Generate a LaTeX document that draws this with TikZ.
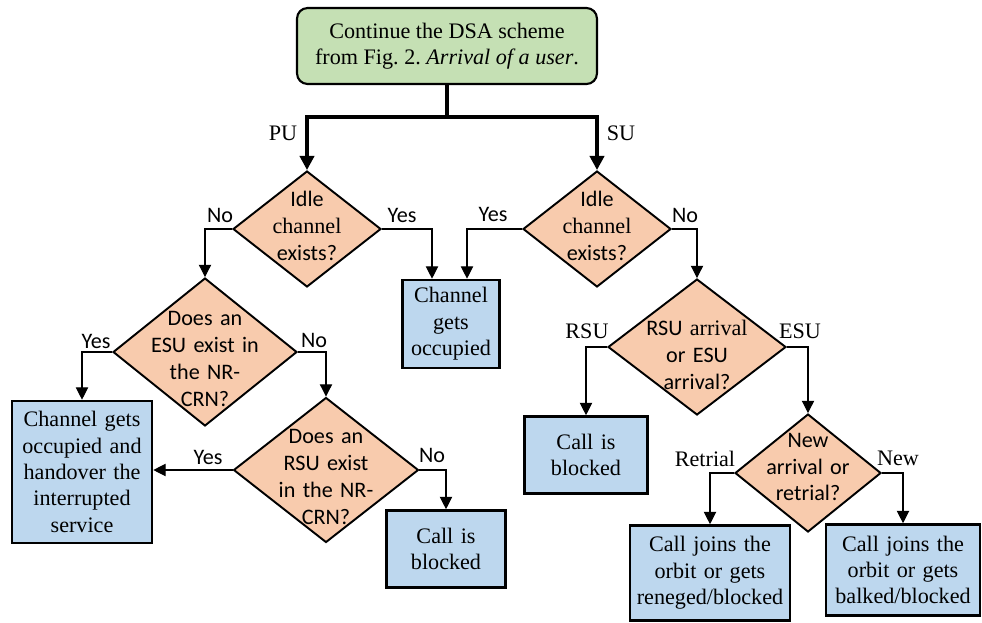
\documentclass[tikz,border=0pt]{standalone}
\usepackage{fontspec}
\setmainfont{Liberation Serif}
\newfontfamily\timesfont{Liberation Serif}
\newfontfamily\calfont{Carlito}
\usepackage{tikz}
\usetikzlibrary{positioning}
\usetikzlibrary{calc,shapes.geometric}
\usetikzlibrary{arrows.meta}
\definecolor{startcol}{HTML}{C5E0B4}
\definecolor{askcol}{HTML}{F8CBAD}
\definecolor{endcol}{HTML}{BDD7EE}
\tikzset{>={Triangle[length=7pt,width=7pt]}}
\tikzset{
  startbox/.style={draw, line width=1.2pt, rounded corners=6pt, fill=startcol,
    inner sep=0pt, align=center, font=\timesfont\fontsize{12.6}{15}\selectfont},
  ask/.style={draw, diamond, line width=1.1pt, fill=askcol, inner sep=0pt},
  asktext/.style={text width=3cm, align=center, inner sep=0pt,
    font=\calfont\fontsize{12.6}{15.3}\selectfont},
  endbox/.style={draw, line width=1.5pt, fill=endcol, inner sep=0pt,
    align=center, font=\timesfont\fontsize{12.6}{15}\selectfont},
  flow/.style={->, line width=0.6pt},
  mainflow/.style={->, line width=2pt, >={Triangle[length=8pt,width=8pt]}},
  tag/.style={inner sep=0pt, font=\timesfont\fontsize{12.6}{15}\selectfont},
  yn/.style={inner sep=0pt, font=\calfont\fontsize{12.6}{15}\selectfont},
}

\begin{document}
\begin{tikzpicture}[x=0.02cm, y=-0.02cm]
\useasboundingbox (0,0) rectangle (982,622);

% ================= Start =================
\node[startbox, minimum width=6cm, minimum height=1.52cm] (start) at (447,46)
  {Continue the DSA scheme\\from Fig.\ 2.\ \textit{Arrival of a user}.};
\coordinate (split) at (447,117);

% ================= Decisions =================
\node[ask, minimum width=2.96cm, minimum height=2.32cm] (d1) at (307,229) {};
\node[asktext] (d1t) at (307,226) {Idle\\{\timesfont channel}\\exists?};

\node[ask, minimum width=2.96cm, minimum height=2.32cm] (d2) at (597,229) {};
\node[asktext] (d2t) at (597,226) {Idle\\{\timesfont channel}\\exists?};

\node[ask, minimum width=3.68cm, minimum height=2.96cm] (d3) at (205,352) {};
\node[asktext] (d3t) at (205,359) {Does an\\ESU exist in\\the NR-\\CRN?};

\node[ask, minimum width=3.7cm, minimum height=2.9cm] (d4) at (326,470) {};
\node[asktext] (d4t) at (326,477) {Does an\\RSU exist\\in the NR-\\CRN?};

\node[ask, minimum width=3.56cm, minimum height=2.72cm] (d5) at (697,347) {};
\node[asktext] (d5t) at (697,355) {RSU {\timesfont arrival}\\or ESU\\arrival?};

\node[ask, minimum width=2.92cm, minimum height=2.36cm] (d6) at (808,473) {};
\node[asktext] (d6t) at (808,467) {New\\arrival or\\retrial?};

% ================= Outcomes =================
\node[endbox, text width=1.94cm, minimum height=1.76cm] (occ) at (451,324)
  {Channel\\gets\\occupied};
\node[endbox, text width=2.8cm, minimum height=2.84cm] (hand) at (82,472)
  {Channel gets\\occupied and\\handover the\\interrupted\\service};
\node[endbox, text width=2.38cm, minimum height=1.54cm] (blk1) at (446,549)
  {Call is\\blocked};
\node[endbox, text width=2.46cm, minimum height=1.54cm] (blk2) at (586,455)
  {Call is\\blocked};
\node[endbox, text width=3.2cm, minimum height=1.9cm] (ren) at (710,573)
  {Call joins the\\orbit or gets\\reneged/blocked};
\node[endbox, text width=3.08cm, minimum height=1.82cm] (balk) at (903,570)
  {Call joins the\\orbit or gets\\balked/blocked};

% ================= Connectors =================
\draw[line width=2pt] (start.south) -- (split);
\draw[mainflow] (split) -| (d1.north);
\draw[mainflow] (split) -| (d2.north);

\draw[flow] (d1.west) -| (d3.north);
\draw[flow] (d1.east) -| ($(occ.north)+(-19,0)$);
\draw[flow] (d2.west) -| ($(occ.north)+(16,0)$);
\draw[flow] (d2.east) -| (d5.north);
\draw[flow] (d3.west) -| (hand.north);
\draw[flow] (d3.east) -| (d4.north);
\draw[flow] (d4.west) -- (d4.west -| hand.east);
\draw[flow] (d4.east) -| (blk1.north);
\draw[flow] (d5.west) -| (blk2.north);
\draw[flow] (d5.east) -| (d6.north);
\draw[flow] (d6.west) -| (ren.north);
\draw[flow] (d6.east) -| (balk.north);

% ================= Branch labels =================
\foreach \n/\x/\y/\t in {
  no1/220/215/No, yes1/402/215/Yes, yes2/493/214/Yes, no2/685/215/No,
  yes3/96/341/Yes, no3/314/340/No, yes4/208/457/Yes, no4/432/455/No
}{
  \node[yn] (\n) at (\x,\y) {\t};
}

\foreach \n/\x/\y/\t in {
  pu/283/133/PU, su/621/133/SU, rsu/587/331/RSU, esu/800/331/ESU,
  retr/705/459/Retrial, new/898/458/New
}{
  \node[tag] (\n) at (\x,\y) {\t};
}
\end{tikzpicture}
\end{document}
